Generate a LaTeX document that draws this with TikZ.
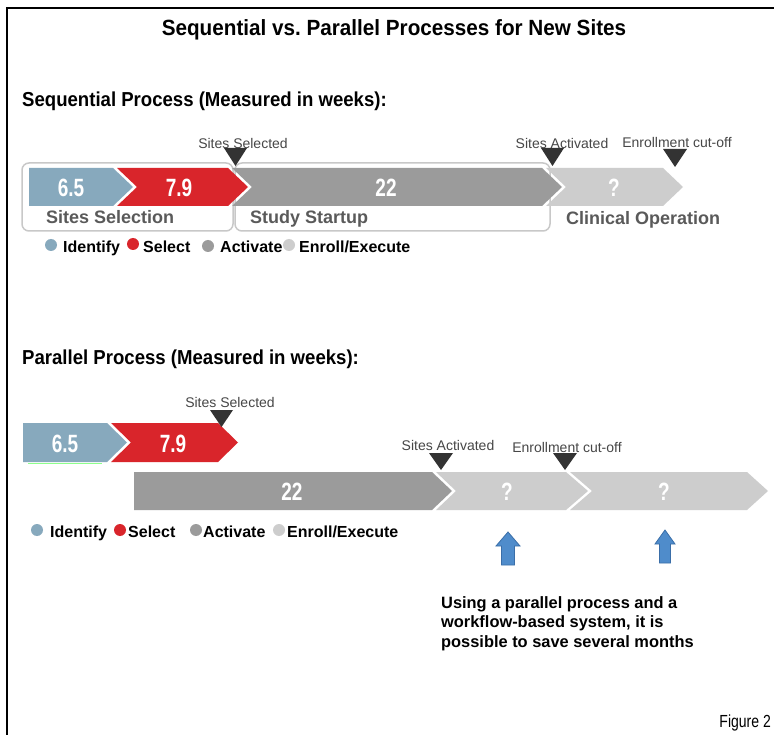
\documentclass[tikz,border=0pt]{standalone}
\usepackage{fontspec}
\setmainfont{Liberation Sans}
\newfontfamily\condf{Liberation Sans}[FakeStretch=0.76]
\newfontfamily\figf{Liberation Sans}[FakeStretch=0.8]
\newfontfamily\headf{Liberation Sans}[FakeStretch=0.92]
\newfontfamily\titlef{Liberation Sans}[FakeStretch=0.94]
\definecolor{cblue}{HTML}{87A9BD}
\definecolor{cred}{HTML}{D9252B}
\definecolor{cgray}{HTML}{9B9B9B}
\definecolor{clight}{HTML}{CDCDCD}
\definecolor{cmark}{HTML}{333333}
\definecolor{clabel}{HTML}{5A5A5A}
\definecolor{cbox}{HTML}{C8C8C8}
\definecolor{carrow}{HTML}{4F8CCB}
\definecolor{carrowd}{HTML}{3A6EA8}
\begin{document}
\begin{tikzpicture}[x=1pt,y=-1pt,
 num/.style={font=\condf\bfseries\fontsize{25}{25}\selectfont, text=white, inner sep=0},
 mlabel/.style={font=\fontsize{14}{14}\selectfont, text=black!72, inner sep=0},
 phase/.style={font=\bfseries\fontsize{18}{18}\selectfont, text=clabel, inner sep=0, anchor=base west},
 legtext/.style={font=\bfseries\fontsize{16}{16}\selectfont, inner sep=0, anchor=base west},
 dot/.style={circle, inner sep=0, minimum size=12pt},
 marker/.style={fill=cmark},
 head/.style={font=\headf\bfseries\fontsize{20.2}{20.2}\selectfont, inner sep=0, anchor=base west},
 bracket/.style={draw=cbox, line width=1.5pt, rounded corners=7pt},
 uparrow/.style={fill=carrow, draw=carrowd, line width=0.8pt},
]
\useasboundingbox (0,0) rectangle (774,735);
\fill[white] (0,0) rectangle (774,735);
\draw[line width=2.5pt] (7,735) -- (7,8) -- (774,8);

% title and headings
\node[font=\titlef\bfseries\fontsize{22}{22}\selectfont, inner sep=0] (title) at (394,30) {Sequential vs.\ Parallel Processes for New Sites};
\node[head] (seqhead) at (22,107) {Sequential Process (Measured in weeks):};
\node[head] (parhead) at (22,364) {Parallel Process (Measured in weeks):};

% sequential brackets
\draw[bracket] (22,163) rectangle (233,231);
\draw[bracket] (235,163) rectangle (550,231);

% sequential bars
\fill[cblue]  (29,168) -- (113,168) -- (133,187) -- (113,206) -- (29,206) -- cycle;
\fill[cred]   (117,168) -- (228,168) -- (248,187) -- (228,206) -- (117,206) -- (137,187) -- cycle;
\fill[cgray]  (232,168) -- (542,168) -- (562,187) -- (542,206) -- (232,206) -- (252,187) -- cycle;
\fill[clight] (546,168) -- (663,168) -- (683,187) -- (663,206) -- (546,206) -- (566,187) -- cycle;
\node[num] (s1) at (71,188) {6.5};
\node[num] (s2) at (179,188) {7.9};
\node[num] (s3) at (386,188) {22};
\node[num] (s4) at (614,188) {?};

% sequential markers
\node[mlabel] (ms1) at (243,143) {Sites Selected};
\node[mlabel] (ms2) at (562,143) {Sites Activated};
\node[mlabel] (ms3) at (677,142) {Enrollment cut-off};
\fill[marker] (224,148) -- (247,148) -- (235.5,166) -- cycle;
\fill[marker] (541,148) -- (564,148) -- (552.5,166) -- cycle;
\fill[marker] (663,149) -- (687,149) -- (675,167) -- cycle;

% phase labels
\node[phase] (p1) at (46,224) {Sites Selection};
\node[phase] (p2) at (250,224) {Study Startup};
\node[phase] (p3) at (566,225) {Clinical Operation};

% legend 1
\node[dot, fill=cblue]  (d11) at (51,245) {};
\node[legtext] (l11) at (63,253) {Identify};
\node[dot, fill=cred]   (d12) at (133,244) {};
\node[legtext] (l12) at (143,253) {Select};
\node[dot, fill=cgray]  (d13) at (208,246) {};
\node[legtext] (l13) at (220,253) {Activate};
\node[dot, fill=clight] (d14) at (289,245) {};
\node[legtext] (l14) at (299,253) {Enroll/Execute};

% parallel top row
\fill[cblue] (23,423) -- (107,423) -- (127,442.5) -- (107,462) -- (23,462) -- cycle;
\fill[cred]  (111,423) -- (218,423) -- (238,442.5) -- (218,462) -- (111,462) -- (131,442.5) -- cycle;
\draw[green!45!white, line width=0.8pt] (28,463.5) -- (102,463.5);
\node[num] (q1) at (65,444) {6.5};
\node[num] (q2) at (173,444) {7.9};
\node[mlabel] (mq1) at (230,402) {Sites Selected};
\fill[marker] (210,410) -- (233,410) -- (221.5,427) -- cycle;

% parallel bottom row
\fill[cgray]  (134,472) -- (432,472) -- (452,491) -- (432,510) -- (134,510) -- cycle;
\fill[clight] (436,472) -- (566,472) -- (588,491) -- (566,510) -- (436,510) -- (456,491) -- cycle;
\fill[clight] (570,472) -- (747,472) -- (768,491) -- (747,510) -- (570,510) -- (592,491) -- cycle;
\node[num] (q3) at (292,492) {22};
\node[num] (q4) at (507,492) {?};
\node[num] (q5) at (664,492) {?};
\node[mlabel] (mq2) at (448,445) {Sites Activated};
\node[mlabel] (mq3) at (567,447) {Enrollment cut-off};
\fill[marker] (429,453) -- (453,453) -- (441,470) -- cycle;
\fill[marker] (553,453) -- (577,453) -- (565,470) -- cycle;

% legend 2
\node[dot, fill=cblue]  (d21) at (37,530) {};
\node[legtext] (l21) at (50,537) {Identify};
\node[dot, fill=cred]   (d22) at (120,530) {};
\node[legtext] (l22) at (128,537) {Select};
\node[dot, fill=cgray]  (d23) at (196,530) {};
\node[legtext] (l23) at (203,537) {Activate};
\node[dot, fill=clight] (d24) at (279,530) {};
\node[legtext] (l24) at (287,537) {Enroll/Execute};

% blue arrows
\filldraw[uparrow] (508,532) -- (520,546) -- (514.5,546) -- (514.5,565) -- (501.5,565) -- (501.5,546) -- (496,546) -- cycle;
\filldraw[uparrow] (665,530) -- (675,544) -- (670.5,544) -- (670.5,563) -- (659.5,563) -- (659.5,544) -- (655,544) -- cycle;

% note
\node[anchor=north west, align=left, font=\bfseries\fontsize{16.4}{19.5}\selectfont, inner sep=0] (note) at (441,596) {Using a parallel process and a\\workflow-based system, it is\\possible to save several months};

\node[font=\figf\fontsize{17.5}{17.5}\selectfont, anchor=base east, inner sep=0] (fig) at (771,727) {Figure 2};
\end{tikzpicture}
\end{document}
